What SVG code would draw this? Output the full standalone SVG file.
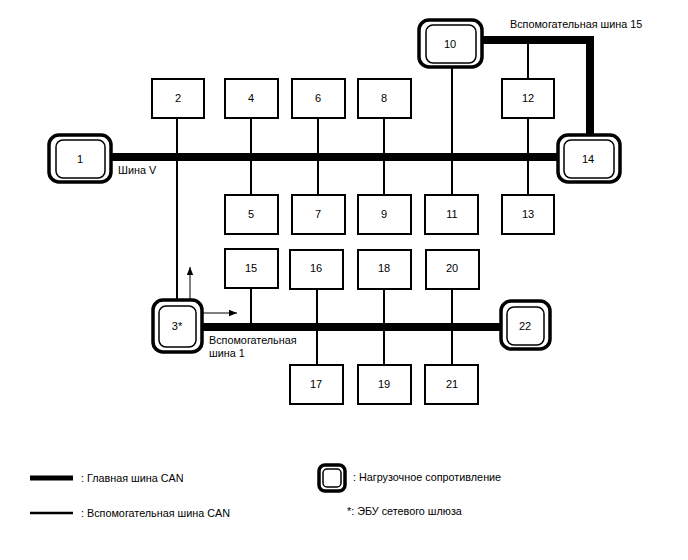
<svg xmlns="http://www.w3.org/2000/svg" width="688" height="560" viewBox="0 0 688 560">
<style>
text{font-family:"Liberation Sans",Arial,sans-serif;font-size:10.8px;fill:#000}
.num{font-size:11px;text-anchor:middle}
.box{fill:#fff;stroke:#000;stroke-width:2}
.ro{fill:#fff;stroke:#000;stroke-width:3.5}
.ri{fill:none;stroke:#000;stroke-width:1.5}
.main{fill:none;stroke:#000;stroke-width:8}
.aux{fill:none;stroke:#000;stroke-width:2}
.arr{fill:none;stroke:#000;stroke-width:1}
</style>
<defs>
<marker id="ah" viewBox="0 0 10 10" refX="10" refY="5" markerWidth="8" markerHeight="8" markerUnits="userSpaceOnUse" orient="auto">
<path d="M0,1 L10,5 L0,9 Z" fill="#000"/>
</marker>
</defs>
<rect width="688" height="560" fill="#fff"/>
<g id="connectors">
<line class="main" x1="111" y1="157" x2="558" y2="157"/>
<polyline class="main" stroke-width="7" points="482,40 590,40 590,135"/>
<line class="main" stroke-width="7" x1="202" y1="327" x2="501" y2="327"/>
<line class="aux" x1="177" y1="119" x2="177" y2="300"/>
<line class="aux" x1="251" y1="118" x2="251" y2="194"/>
<line class="aux" x1="318" y1="118" x2="318" y2="194"/>
<line class="aux" x1="384" y1="118" x2="384" y2="194"/>
<line class="aux" x1="452" y1="67" x2="452" y2="194"/>
<line class="aux" x1="528" y1="40" x2="528" y2="194"/>
<line class="aux" x1="251" y1="288" x2="251" y2="327"/>
<line class="aux" x1="317" y1="289" x2="317" y2="364"/>
<line class="aux" x1="384" y1="289" x2="384" y2="364"/>
<line class="aux" x1="452" y1="289" x2="452" y2="364"/>
<line class="arr" x1="190" y1="322" x2="190" y2="267" marker-end="url(#ah)"/>
<line class="arr" x1="190" y1="313" x2="237" y2="313" marker-end="url(#ah)"/>
</g>
<g id="n1"><rect class="ro" x="49" y="135" width="62" height="47" rx="10"/><rect class="ri" x="56" y="140" width="49" height="38" rx="7"/><text class="num" x="80" y="163">1</text></g>
<g id="n10"><rect class="ro" x="419" y="20" width="63" height="47" rx="10"/><rect class="ri" x="426" y="25" width="50" height="38" rx="7"/><text class="num" x="450" y="48">10</text></g>
<g id="n14"><rect class="ro" x="558" y="135" width="62" height="47" rx="10"/><rect class="ri" x="564" y="140" width="50" height="38" rx="7"/><text class="num" x="588" y="163">14</text></g>
<g id="n3"><rect class="ro" x="153" y="300" width="49" height="52" rx="10"/><rect class="ri" x="159" y="306" width="37" height="41" rx="7"/><text class="num" x="177" y="330">3*</text></g>
<g id="n22"><rect class="ro" x="501" y="301" width="49" height="48" rx="10"/><rect class="ri" x="507" y="307" width="37" height="38" rx="7"/><text class="num" x="525" y="330">22</text></g>
<g id="n2"><rect class="box" x="152" y="79" width="52" height="39"/><text class="num" x="178" y="102">2</text></g>
<g id="n4"><rect class="box" x="225" y="79" width="53" height="39"/><text class="num" x="251" y="102">4</text></g>
<g id="n6"><rect class="box" x="292" y="79" width="53" height="39"/><text class="num" x="318" y="102">6</text></g>
<g id="n8"><rect class="box" x="358" y="79" width="53" height="39"/><text class="num" x="384" y="102">8</text></g>
<g id="n12"><rect class="box" x="502" y="79" width="52" height="39"/><text class="num" x="528" y="102">12</text></g>
<g id="n5"><rect class="box" x="225" y="195" width="53" height="39"/><text class="num" x="251" y="218">5</text></g>
<g id="n7"><rect class="box" x="292" y="195" width="53" height="39"/><text class="num" x="318" y="218">7</text></g>
<g id="n9"><rect class="box" x="358" y="195" width="53" height="39"/><text class="num" x="384" y="218">9</text></g>
<g id="n11"><rect class="box" x="425" y="195" width="53" height="39"/><text class="num" x="452" y="218">11</text></g>
<g id="n13"><rect class="box" x="502" y="195" width="52" height="39"/><text class="num" x="528" y="218">13</text></g>
<g id="n15"><rect class="box" x="225" y="249" width="53" height="39"/><text class="num" x="251" y="272">15</text></g>
<g id="n16"><rect class="box" x="290" y="250" width="53" height="39"/><text class="num" x="316" y="272">16</text></g>
<g id="n18"><rect class="box" x="358" y="250" width="53" height="39"/><text class="num" x="384" y="272">18</text></g>
<g id="n20"><rect class="box" x="426" y="250" width="53" height="39"/><text class="num" x="452" y="272">20</text></g>
<g id="n17"><rect class="box" x="290" y="365" width="53" height="39"/><text class="num" x="316" y="388">17</text></g>
<g id="n19"><rect class="box" x="358" y="365" width="53" height="39"/><text class="num" x="384" y="388">19</text></g>
<g id="n21"><rect class="box" x="425" y="365" width="53" height="39"/><text class="num" x="452" y="388">21</text></g>
<g id="labels">
<text x="118" y="174">Шина V</text>
<text x="510" y="28">Вспомогательная шина 15</text>
<text x="209" y="344">Вспомогательная</text>
<text x="209" y="357">шина 1</text>
</g>
<g id="legend">
<line x1="30" y1="478" x2="73" y2="478" stroke="#000" stroke-width="5"/>
<text x="81" y="482">: Главная шина CAN</text>
<line x1="30" y1="513" x2="73" y2="513" stroke="#000" stroke-width="2.5"/>
<text x="81" y="517">: Вспомогательная шина CAN</text>
<rect class="ro" x="319" y="465" width="26" height="26" rx="6"/>
<rect class="ri" x="323" y="469" width="18" height="18" rx="4"/>
<text x="353" y="481">: Нагрузочное сопротивление</text>
<text x="347" y="515">*: ЭБУ сетевого шлюза</text>
</g>
</svg>
